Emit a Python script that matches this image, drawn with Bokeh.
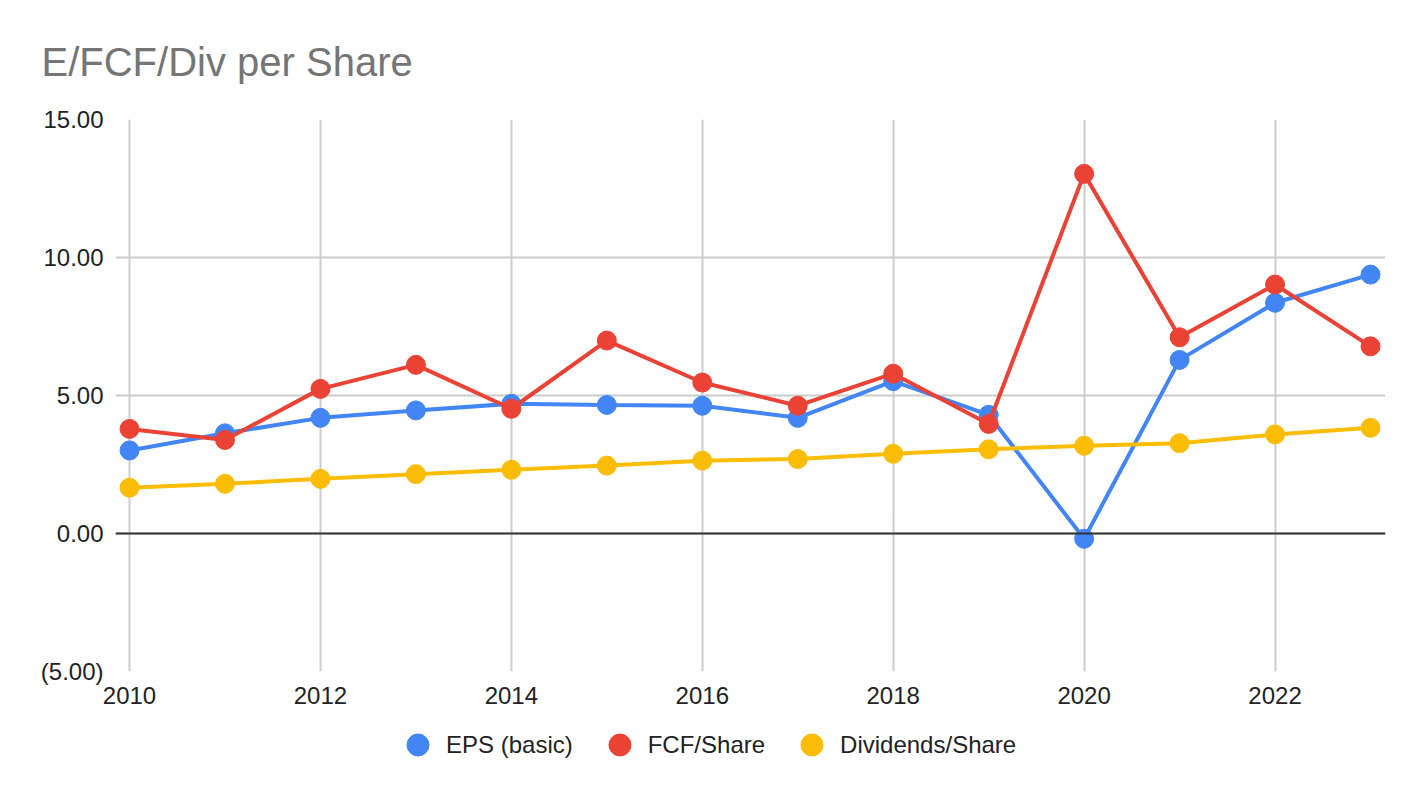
from bokeh.plotting import figure
from bokeh.layouts import column
from bokeh.models import Range1d, FixedTicker, Legend, LegendItem, Span
from bokeh.embed import file_html
from bokeh.resources import INLINE

# chart data
years = [2010, 2011, 2012, 2013, 2014, 2015, 2016, 2017, 2018, 2019, 2020, 2021, 2022, 2023]
eps = [3.01, 3.63, 4.19, 4.46, 4.70, 4.66, 4.63, 4.19, 5.52, 4.30, -0.19, 6.29, 8.36, 9.38]
fcf = [3.79, 3.39, 5.24, 6.11, 4.52, 6.99, 5.47, 4.63, 5.79, 3.97, 13.03, 7.11, 9.02, 6.78]
div = [1.66, 1.80, 1.98, 2.15, 2.31, 2.46, 2.64, 2.70, 2.89, 3.05, 3.18, 3.27, 3.59, 3.83]

series_names = ["EPS (basic)", "FCF/Share", "Dividends/Share"]
series_colors = ["#4285F4", "#EA4335", "#FBBC04"]

x_ticks = [2010, 2012, 2014, 2016, 2018, 2020, 2022]
y_ticks = [-5, 0, 5, 10, 15]
y_tick_labels = ["(5.00)", "0.00", "5.00", "10.00", "15.00"]

FONT = "Liberation Sans"

p = figure(
    width=1416,
    height=715,
    x_range=Range1d(2009.853, 2023.157),
    y_range=Range1d(-5, 15),
    output_backend="svg",
    toolbar_location=None,
    min_border_left=115,
    min_border_right=31,
    min_border_top=119,
    min_border_bottom=44,
)
p.outline_line_color = None

# title
p.title.text = "E/FCF/Div per Share"
p.title.text_font = FONT
p.title.text_font_size = "40px"
p.title.text_font_style = "normal"
p.title.text_color = "#757575"
p.title.align = "left"
p.title.offset = -74
p.title.standoff = 72

# axes
p.xaxis.ticker = FixedTicker(ticks=x_ticks)
p.yaxis.ticker = FixedTicker(ticks=y_ticks)
p.yaxis.major_label_overrides = {t: s for t, s in zip(y_ticks, y_tick_labels)}
for ax in (p.xaxis, p.yaxis):
    ax.axis_line_color = None
    ax.major_tick_line_color = None
    ax.minor_tick_line_color = None
    ax.major_tick_out = 0
    ax.major_tick_in = 0
    ax.major_label_text_font = FONT
    ax.major_label_text_font_size = "24px"
    ax.major_label_text_color = "#222222"
p.yaxis.major_label_standoff = 12
p.xaxis.major_label_standoff = 15

p.xgrid.grid_line_color = "#cccccc"
p.ygrid.grid_line_color = "#cccccc"
p.xgrid.grid_line_width = 2
p.ygrid.grid_line_width = 2

p.add_layout(Span(location=0, dimension="width", line_color="#333333", line_width=2))

# series
for vals, color in zip([eps, fcf, div], series_colors):
    p.line(years, vals, line_color=color, line_width=4)
    p.scatter(years, vals, size=19, fill_color=color, line_color=color)

# legend strip below the chart (hidden one-point renderers only feed the legend glyphs)
lg = figure(
    width=1416,
    height=60,
    x_range=Range1d(0, 1),
    y_range=Range1d(0, 1),
    x_axis_type=None,
    y_axis_type=None,
    output_backend="svg",
    toolbar_location=None,
    min_border=0,
)
lg.outline_line_color = None
lg.grid.visible = False
items = []
for name, vals, color in zip(series_names, [eps, fcf, div], series_colors):
    r = lg.scatter(years[:1], vals[:1], size=19, fill_color=color, line_color=color, visible=False)
    items.append(LegendItem(label=name, renderers=[r]))

legend = Legend(items=items, orientation="horizontal", location=(275, 3))
legend.glyph_width = 55
legend.glyph_height = 55
legend.label_standoff = 1
legend.spacing = 19
legend.padding = 0
legend.margin = 0
legend.border_line_color = None
legend.background_fill_alpha = 0
legend.inactive_fill_alpha = 0
legend.label_text_font = FONT
legend.label_text_font_size = "24px"
legend.label_text_color = "#222222"
lg.add_layout(legend)

layout = column(p, lg, spacing=0)
open("out.html", "w").write(file_html(layout, INLINE))
